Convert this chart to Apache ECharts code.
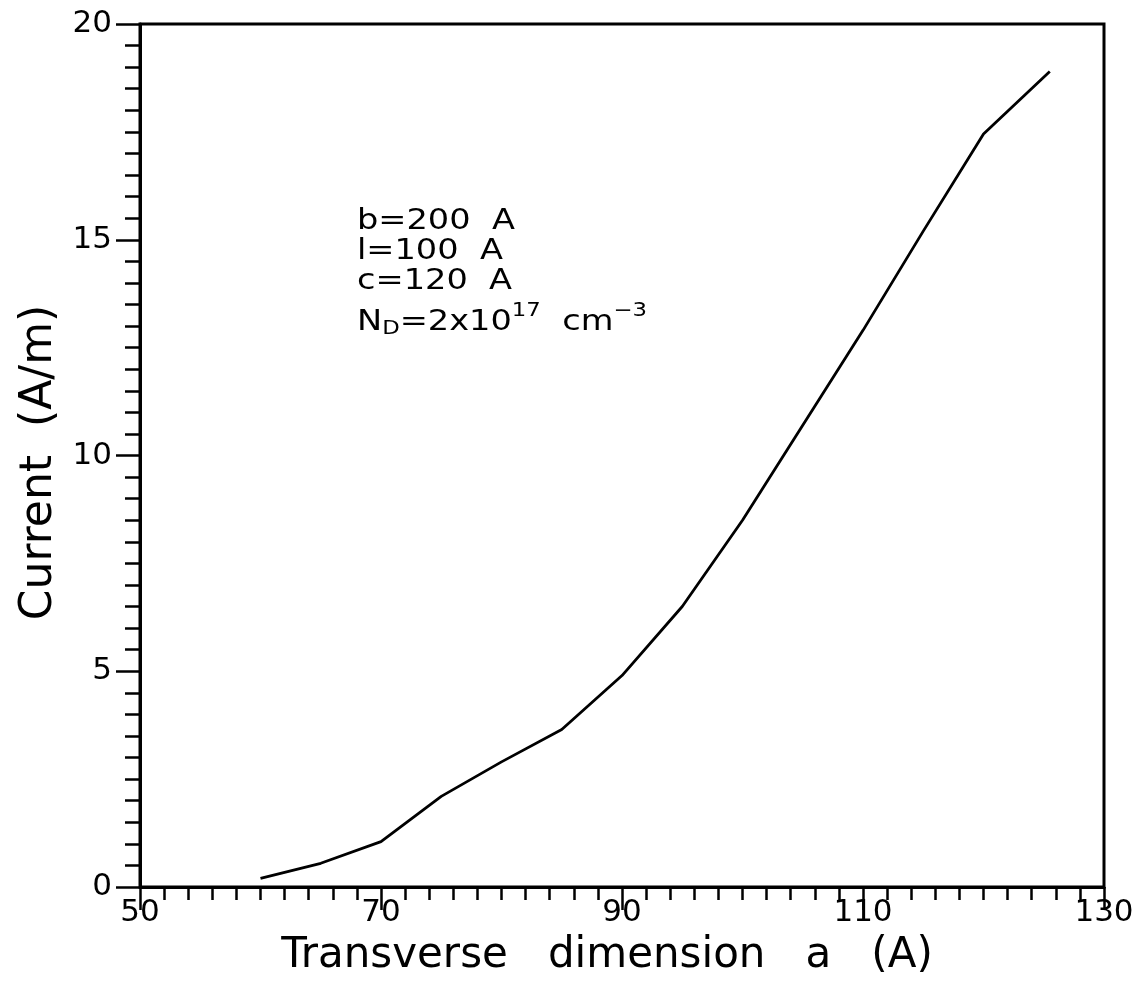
<!DOCTYPE html>
<html>
<head>
<meta charset="utf-8">
<title>Current vs transverse dimension</title>
<script src="https://cdn.jsdelivr.net/npm/echarts@6/dist/echarts.min.js"></script>
<style>
  html, body { margin: 0; padding: 0; background: #ffffff; }
  #chart { width: 1138px; height: 1005px; }
</style>
</head>
<body>
<div id="chart"></div>
<script>
// Transverse dimension a (A) and the computed current (A/m)
const dimensionA = [60, 65, 70, 75, 80, 85, 90, 95, 100, 105, 110, 115, 120, 125.5];
const currentAm  = [0.2, 0.55, 1.05, 2.1, 2.9, 3.65, 4.9, 6.5, 8.5, 10.7, 12.9, 15.2, 17.45, 18.9];

// Axis ranges and labelled ticks
const xTickLabels = [50, 70, 90, 110, 130];
const yTickLabels = [0, 5, 10, 15, 20];

// Device parameters printed inside the plot
const paramLines = ['b=200  A', 'l=100  A', 'c=120  A'];

const FONT = '"DejaVu Sans", "Liberation Sans", sans-serif';
const INK = '#000000';
// the plotter lettering is wide; stretch the note text horizontally
const NOTE_STRETCH = 1.2;

const chart = echarts.init(document.getElementById('chart'), null, { renderer: 'canvas' });

const grid = { left: 140, right: 34, top: 24, bottom: 118 };

const noteTops = [208, 238, 268];
const paramGraphics = paramLines.map((t, i) => ({
  type: 'text',
  x: 357,
  y: noteTops[i],
  scaleX: NOTE_STRETCH,
  style: { text: t, font: '28px ' + FONT, fill: INK, align: 'left', verticalAlign: 'top' }
}));

paramGraphics.push({
  type: 'text',
  x: 357,
  y: 302,
  scaleX: NOTE_STRETCH,
  style: {
    text: '{n|N}{sub|D}{n|=2x10}{sup|17}{n|  cm}{sup|−3}',
    fill: INK,
    align: 'left',
    verticalAlign: 'top',
    rich: {
      n:   { fontSize: 28, fontFamily: FONT, lineHeight: 42, verticalAlign: 'middle', fill: INK },
      sub: { fontSize: 19, fontFamily: FONT, lineHeight: 19, verticalAlign: 'bottom', padding: [0, 0, 5, 0], fill: INK },
      sup: { fontSize: 19, fontFamily: FONT, lineHeight: 19, verticalAlign: 'top', fill: INK }
    }
  }
});

chart.setOption({
  animation: false,
  backgroundColor: '#ffffff',
  grid: Object.assign({ show: true, borderColor: INK, borderWidth: 3, backgroundColor: 'transparent' }, grid),
  xAxis: {
    type: 'value',
    min: xTickLabels[0],
    max: xTickLabels[xTickLabels.length - 1],
    interval: xTickLabels[1] - xTickLabels[0],
    name: 'Transverse   dimension   a   (A)',
    nameLocation: 'middle',
    nameGap: 48,
    nameTextStyle: { fontFamily: FONT, fontSize: 42, color: INK, padding: [0, 30, 0, 0] },
    axisLine: { show: true, onZero: false, lineStyle: { color: INK, width: 3 } },
    axisTick: { show: true, inside: false, length: 23, lineStyle: { color: INK, width: 2.5 } },
    minorTick: { show: true, splitNumber: 10, length: 13, lineStyle: { color: INK, width: 2.5 } },
    axisLabel: { fontFamily: FONT, fontSize: 31, color: INK, margin: 10 },
    splitLine: { show: false }
  },
  yAxis: {
    type: 'value',
    min: yTickLabels[0],
    max: yTickLabels[yTickLabels.length - 1],
    interval: yTickLabels[1] - yTickLabels[0],
    name: 'Current  (A/m)',
    nameLocation: 'middle',
    nameGap: 72,
    nameTextStyle: { fontFamily: FONT, fontSize: 44, color: INK, padding: [0, 14, 0, 0] },
    axisLine: { show: true, onZero: false, lineStyle: { color: INK, width: 3 } },
    axisTick: { show: true, inside: false, length: 24, lineStyle: { color: INK, width: 2.5 } },
    minorTick: { show: true, splitNumber: 10, length: 15, lineStyle: { color: INK, width: 2.5 } },
    axisLabel: { fontFamily: FONT, fontSize: 31, color: INK, margin: 28 },
    splitLine: { show: false }
  },
  graphic: paramGraphics,
  series: [{
    type: 'line',
    data: dimensionA.map((x, i) => [x, currentAm[i]]),
    showSymbol: false,
    symbol: 'none',
    smooth: false,
    clip: true,
    lineStyle: { color: INK, width: 2.8 }
  }]
});
</script>
</body>
</html>
